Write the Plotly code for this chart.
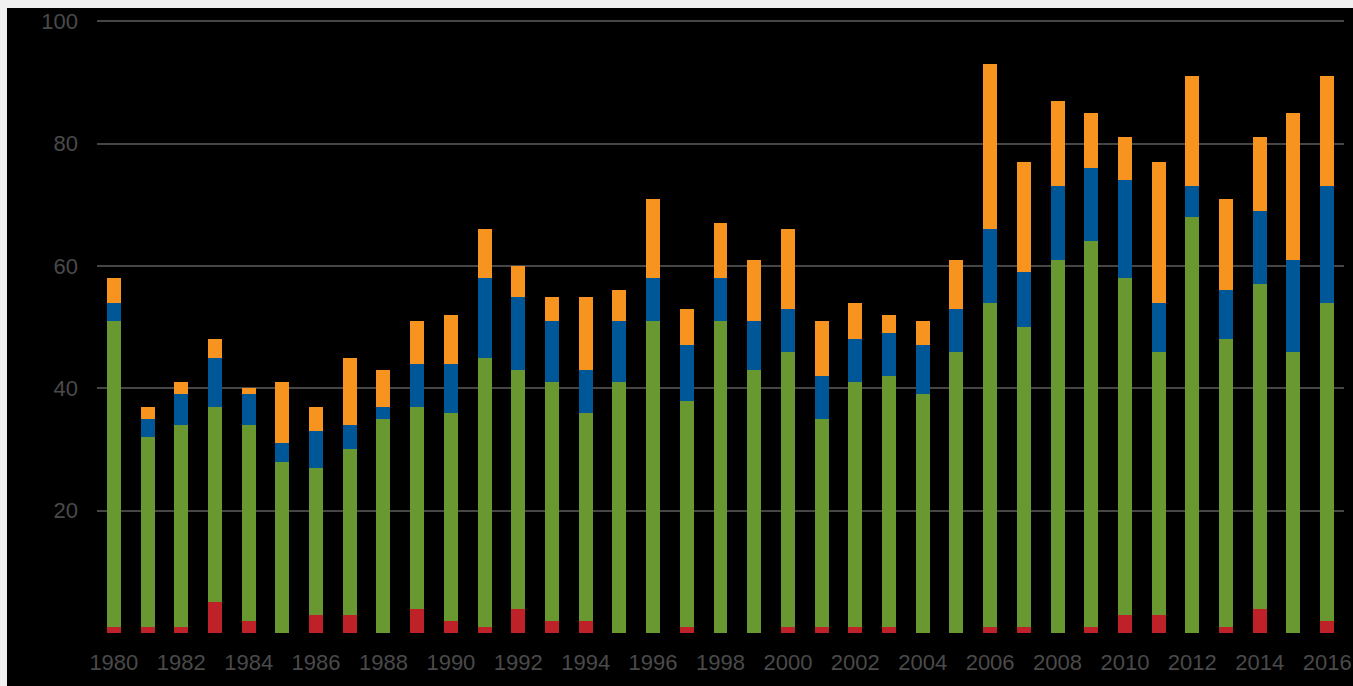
import plotly.graph_objects as go

years = list(range(1980, 2017))

red = [1, 1, 1, 5, 2, 0, 3, 3, 0, 4,
       2, 1, 4, 2, 2, 0, 0, 1, 0, 0,
       1, 1, 1, 1, 0, 0, 1, 1, 0, 1,
       3, 3, 0, 1, 4, 0, 2]
green = [50, 31, 33, 32, 32, 28, 24, 27, 35, 33,
         34, 44, 39, 39, 34, 41, 51, 37, 51, 43,
         45, 34, 40, 41, 39, 46, 53, 49, 61, 63,
         55, 43, 68, 47, 53, 46, 52]
blue = [3, 3, 5, 8, 5, 3, 6, 4, 2, 7,
        8, 13, 12, 10, 7, 10, 7, 9, 7, 8,
        7, 7, 7, 7, 8, 7, 12, 9, 12, 12,
        16, 8, 5, 8, 12, 15, 19]
orange = [4, 2, 2, 3, 1, 10, 4, 11, 6, 7,
          8, 8, 5, 4, 12, 5, 13, 6, 9, 10,
          13, 9, 6, 3, 4, 8, 27, 18, 14, 9,
          7, 23, 18, 15, 12, 24, 18]

x_tick_vals = years[::2]
x_tick_text = [str(y) for y in x_tick_vals]
y_tick_vals = [20, 40, 60, 80, 100]

series = [
	("red", red, "#be2128"),
	("green", green, "#6a9830"),
	("blue", blue, "#005797"),
	("orange", orange, "#f7941f"),
]

fig = go.Figure()
for name, vals, color in series:
	fig.add_trace(go.Bar(x = years, y = vals, name = name,
	                     marker = dict(color = color, line = dict(width = 0))))

tick_font = dict(family = "Liberation Sans, Arial, sans-serif", size = 22, color = "#4a4a4a")

# y range a hair above 100 so the top gridline is still drawn
fig.update_layout(barmode = "stack",
                  bargap = 0.585,
                  template = "none",
                  showlegend = False,
                  width = 1346,
                  height = 678,
                  margin = dict(l = 90, r = 9, t = 12, b = 53),
                  paper_bgcolor = "black",
                  plot_bgcolor = "black",
                  xaxis = dict(range = [1979.5, 2016.5],
                               tickvals = x_tick_vals,
                               ticktext = x_tick_text,
                               tickfont = tick_font,
                               showgrid = False,
                               zeroline = False,
                               showline = False,
                               ticks = "",
                               ticklabelstandoff = 14,
                               automargin = False),
                  yaxis = dict(range = [0, 100.2],
                               tickvals = y_tick_vals,
                               tickfont = tick_font,
                               showgrid = True,
                               gridcolor = "#464646",
                               gridwidth = 2,
                               zeroline = False,
                               showline = False,
                               ticks = "",
                               ticklabelstandoff = 18,
                               automargin = False))

page_style = ("document.body.style.margin='8px 0 0 7px';"
              "document.body.style.background='#f0f0f0';"
              "document.body.style.overflow='hidden';")

fig.write_html("out.html", post_script = page_style)
